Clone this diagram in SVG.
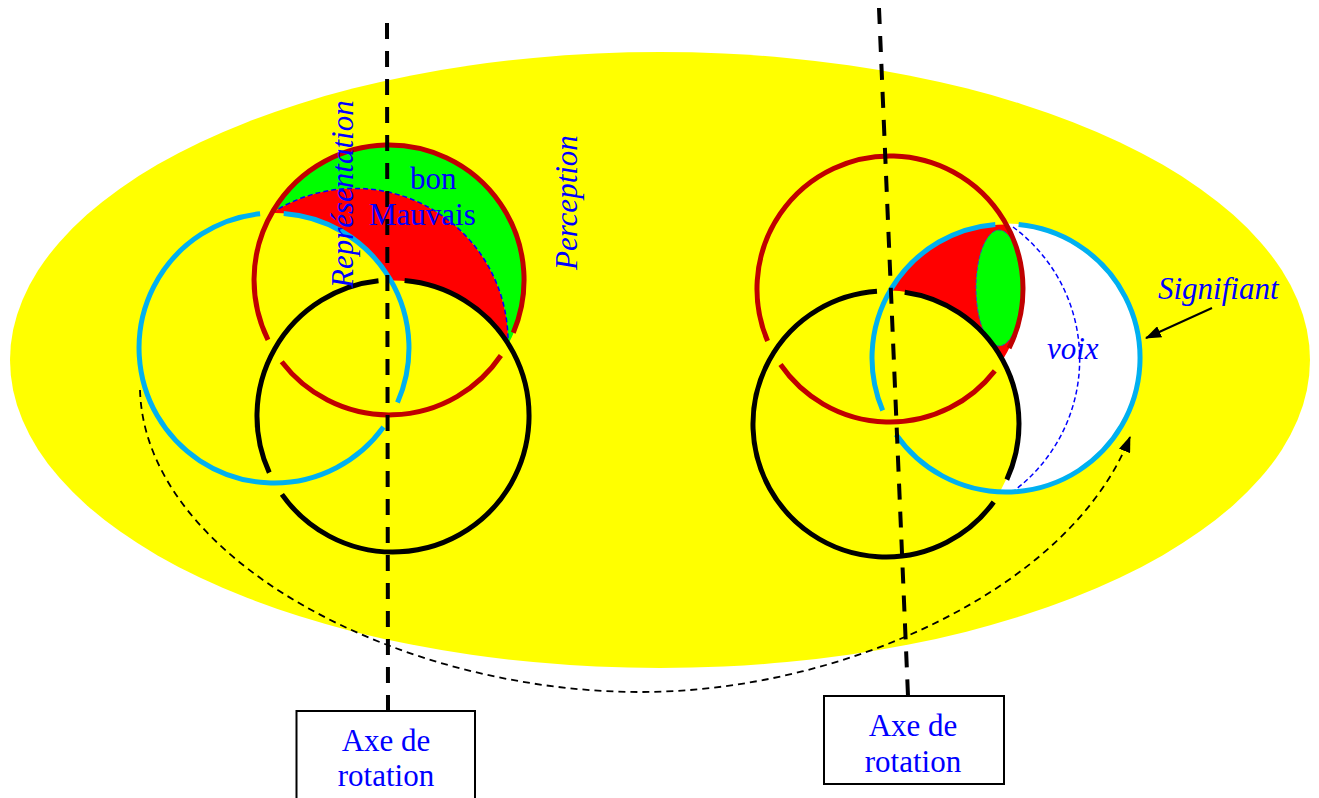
<svg xmlns="http://www.w3.org/2000/svg" width="1319" height="798" viewBox="0 0 1319 798">
  <style>
    .lbl { font-family: "Liberation Serif", "Times New Roman", serif; font-size: 31px; fill: #0000FF; }
    .it { font-style: italic; }
    .ring { fill: none; stroke-width: 5; }
    .red { stroke: #C00000; }
    .blu { stroke: #00B0F0; }
    .blk { stroke: #000000; }
    .axis { fill: none; stroke: #000; stroke-width: 4; stroke-dasharray: 16 12; }
    .dash-blue { fill: none; stroke: #0000FF; stroke-width: 1.5; stroke-dasharray: 5 3; }
    .box { fill: #FFFFFF; stroke: #000; stroke-width: 2; }
  </style>
  <defs>
    <marker id="arrow" markerWidth="16" markerHeight="12" refX="15" refY="6" orient="auto" markerUnits="userSpaceOnUse">
      <path d="M0,0 L16,6 L0,12 Z" fill="#000"/>
    </marker>
  </defs>

  <rect x="0" y="0" width="1319" height="798" fill="#FFFFFF"/>
  <g id="background">
    <ellipse cx="660" cy="360" rx="650" ry="308" fill="#FFFF00"/>
  </g>

  <g id="left-knot">
    <path d="M 271.8 213 A 135 135 0 0 1 389 145 A 135 135 0 0 1 508 344.6 A 153 153 0 0 0 271.8 213 Z" fill="#00FF00"/>
    <path d="M 271.8 213 A 153 153 0 0 1 508 344.6 A 136 136 0 0 0 391.5 280.5 A 135 135 0 0 0 271.8 213 Z" fill="#FF0000"/>
    <path class="dash-blue" d="M 271.8 213 A 153 153 0 0 1 508 344.6"/>
    <path class="ring red" d="M 500.9 355.5 A 135 135 0 0 1 281.7 361.8 M 268 339.8 A 135 135 0 1 1 513.3 332.8"/>
    <path class="ring blu" d="M 283.7 213.4 A 135 135 0 0 1 397.5 402.5 M 383.5 427 A 135 135 0 1 1 260.1 213.7"/>
    <path class="ring blk" d="M 404.6 280.5 A 136 136 0 1 1 281.9 494.4 M 269.3 472.6 A 136 136 0 0 1 378.5 280.8"/>
  </g>

  <g id="right-knot">
    <path d="M 1006.9 224.5 A 134 134 0 0 1 1140 358 A 134 134 0 0 1 1001.2 491.4 A 133 133 0 0 0 1002.6 359.9 A 133 133 0 0 0 1006.9 224.5 Z" fill="#FFFFFF" stroke="#FFFFFF" stroke-width="2"/>
    <path d="M 890.8 290.6 A 134 134 0 0 1 1006.9 224.5 A 133 133 0 0 1 1002.6 359.9 A 133 133 0 0 0 890.8 290.6 Z" fill="#FF0000"/>
    <ellipse cx="999" cy="288" rx="23" ry="58" fill="#00FF00" stroke="#3050C0" stroke-width="1" stroke-dasharray="4 2"/>
    <path class="dash-blue" d="M 1013 227 A 164.5 164.5 0 0 1 1015 490"/>
    <path class="ring red" d="M 994.8 370.9 A 133 133 0 0 1 780.5 364.5 M 767.6 341 A 133 133 0 1 1 1009.1 348.1"/>
    <path class="ring blu" d="M 1018.6 224.6 A 134 134 0 1 1 896 434.5 M 882.7 410.4 A 134 134 0 0 1 995.3 224.4"/>
    <path class="ring blk" d="M 904.7 292.3 A 133 133 0 0 1 1006.8 479.6 M 993.7 502 A 133 133 0 1 1 877 291.3"/>
  </g>

  <g id="connectors">
    <line class="axis" x1="387" y1="23" x2="388" y2="711"/>
    <line class="axis" x1="879" y1="8" x2="908" y2="696"/>
    <path d="M 140 390 C 145 560, 400 692, 641 692 C 840 692, 1070 590, 1130 437" fill="none" stroke="#000" stroke-width="1.8" stroke-dasharray="7 5" marker-end="url(#arrow)"/>
    <line x1="1212" y1="308" x2="1146" y2="338" stroke="#000" stroke-width="2" marker-end="url(#arrow)"/>
  </g>

  <g id="labels">
    <text class="lbl" x="410" y="189">bon</text>
    <text class="lbl" x="369" y="225">Mauvais</text>
    <text class="lbl it" transform="translate(353,288) rotate(-90)">Représentation</text>
    <text class="lbl it" transform="translate(577,270) rotate(-90)">Perception</text>
    <text class="lbl it" x="1158" y="299">Signifiant</text>
    <text class="lbl it" x="1047" y="359">voix</text>
  </g>

  <g id="box-left">
    <rect class="box" x="296.5" y="711" width="178.5" height="100"/>
    <text class="lbl" x="386" y="751" text-anchor="middle">Axe de</text>
    <text class="lbl" x="386" y="786" text-anchor="middle">rotation</text>
  </g>
  <g id="box-right">
    <rect class="box" x="824" y="696" width="180" height="88"/>
    <text class="lbl" x="913" y="736" text-anchor="middle">Axe de</text>
    <text class="lbl" x="913" y="772" text-anchor="middle">rotation</text>
  </g>
</svg>
